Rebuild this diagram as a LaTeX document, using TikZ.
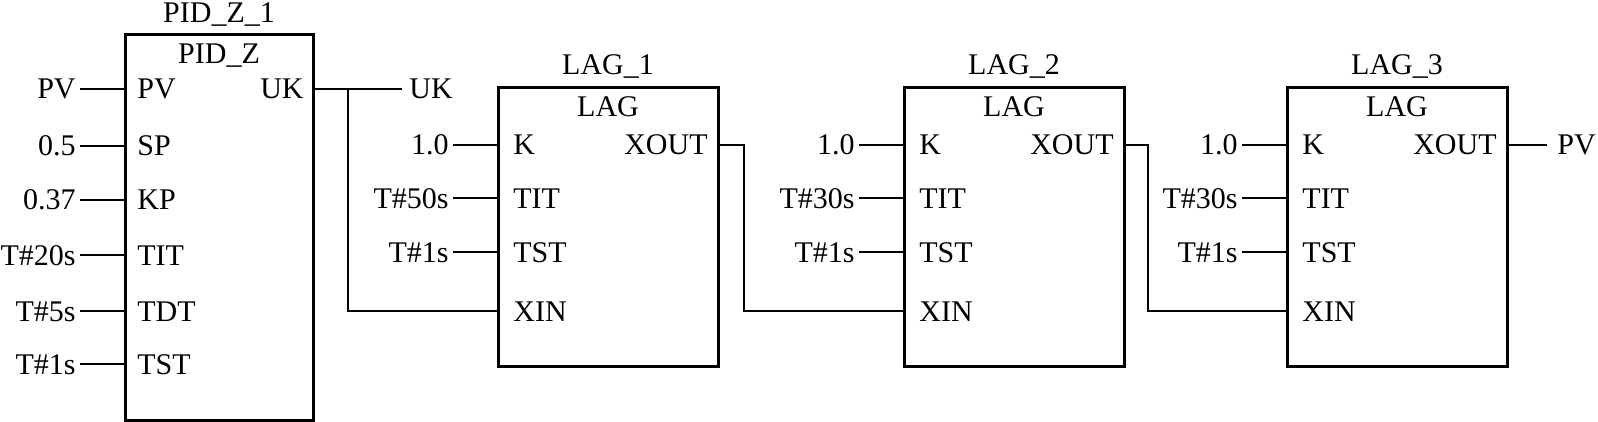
\documentclass[tikz,border=0pt]{standalone}
\usepackage{fontspec}
\setmainfont{Liberation Serif}
\begin{document}
\begin{tikzpicture}[x=0.5pt,y=-0.5pt,
  fbox/.style={draw, line width=1.5pt, rectangle, inner sep=0pt, outer sep=0pt, anchor=north west},
  wire/.style={line width=1.1pt},
  lbl/.style={inner sep=0pt, font=\fontsize{15}{18}\selectfont}]
\useasboundingbox (0,0) rectangle (1598,422);
% PID block
\node[fbox, minimum width=94pt, minimum height=192.5pt] (pid) at (125,35) {};
\node[lbl, anchor=base] (pidtitle) at (219,23) {PID\_Z\_1};
\node[lbl, anchor=base] (pidtype) at (219,64) {PID\_Z};
\foreach \nm/\val/\y [count=\i] in {PV/PV/89, SP/0.5/146, KP/0.37/200, TIT/T\#20s/255, TDT/T\#5s/311, TST/T\#1s/364}{
  \coordinate (pidp\i) at (125,\y);
  \coordinate (pida\i) at (80,\y);
  \draw[wire] (pida\i) -- (pidp\i);
  \node[lbl, anchor=base east] (pidv\i) at (76,\y+10) {\val};
  \node[lbl, anchor=base west] (pidn\i) at (137,\y+10) {\nm};
}
\node[lbl, anchor=base east] (pidukn) at (304,99) {UK};
\coordinate (pid-uk) at (313,89);
% LAG blocks
\foreach \L/\k/\n in {498/50/1, 904/30/2, 1287/30/3}{
  \node[fbox, minimum width=110pt, minimum height=139pt] (lag\n) at (\L,88) {};
  \node[lbl, anchor=base] (lagt\n) at (\L+110,75) {LAG\_\n};
  \node[lbl, anchor=base] (lagty\n) at (\L+110,117) {LAG};
  \foreach \nm/\val/\y [count=\j] in {K/1.0/145, TIT/T\#\k s/198, TST/T\#1s/252}{
    \coordinate (lag\n p\j) at (\L,\y);
    \coordinate (lag\n a\j) at (\L-45,\y);
    \draw[wire] (lag\n a\j) -- (lag\n p\j);
    \node[lbl, anchor=base east] (lag\n v\j) at (\L-49,\y+10) {\val};
    \node[lbl, anchor=base west] (lag\n n\j) at (\L+15,\y+10) {\nm};
  }
  \node[lbl, anchor=base west] (lag\n xinn) at (\L+15,321) {XIN};
  \coordinate (lag\n-xin) at (\L,311);
  \node[lbl, anchor=base east] (lag\n xoutn) at (\L+210,155) {XOUT};
  \coordinate (lag\n-xout) at (\L+220,145);
}
% connections
\coordinate (ukend) at (402,89);
\coordinate (br1) at (348,89);
\draw[wire] (pid-uk) -- (ukend);
\draw[wire] (br1) |- (lag1-xin);
\node[lbl, anchor=base west] (uklbl) at (409,99) {UK};
\coordinate (br2) at (744,145);
\draw[wire] (lag1-xout) -- (br2) |- (lag2-xin);
\coordinate (br3) at (1148,145);
\draw[wire] (lag2-xout) -- (br3) |- (lag3-xin);
\coordinate (pvend) at (1547,145);
\draw[wire] (lag3-xout) -- (pvend);
\node[lbl, anchor=base west] (pvlbl) at (1557,155) {PV};
\end{tikzpicture}
\end{document}
